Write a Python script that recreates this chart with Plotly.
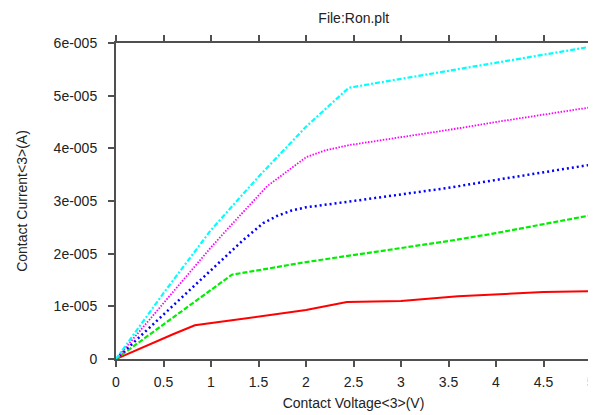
import plotly.graph_objects as go

# Data (currents in A)
red_x = [0, 0.3, 0.6, 0.83, 1.2, 1.6, 2.0, 2.43, 3.0, 3.6, 4.0, 4.5, 5.0]
red_y = [0, 0.24e-5, 0.47e-5, 0.64e-5, 0.73e-5, 0.82e-5, 0.93e-5, 1.08e-5, 1.10e-5, 1.19e-5, 1.22e-5, 1.27e-5, 1.29e-5]

green_x = [0, 0.5, 1.0, 1.22, 2.0, 2.5, 3.0, 3.5, 4.0, 4.5, 5.0]
green_y = [0, 0.66e-5, 1.31e-5, 1.60e-5, 1.84e-5, 1.97e-5, 2.10e-5, 2.24e-5, 2.39e-5, 2.56e-5, 2.73e-5]

blue_x = [0, 0.5, 1.0, 1.34, 1.55, 1.7, 1.85, 2.0, 2.5, 3.0, 3.5, 4.0, 4.5, 5.0]
blue_y = [0, 0.85e-5, 1.70e-5, 2.26e-5, 2.58e-5, 2.72e-5, 2.82e-5, 2.88e-5, 3.00e-5, 3.12e-5, 3.25e-5, 3.40e-5, 3.55e-5, 3.69e-5]

mag_x = [0, 0.5, 1.0, 1.2, 1.59, 2.0, 2.2, 2.45, 3.0, 3.5, 4.0, 4.5, 5.0]
mag_y = [0, 1.07e-5, 2.12e-5, 2.52e-5, 3.28e-5, 3.83e-5, 3.96e-5, 4.06e-5, 4.21e-5, 4.35e-5, 4.50e-5, 4.64e-5, 4.78e-5]

cyan_x = [0, 0.5, 1.0, 1.5, 2.0, 2.45, 3.0, 3.5, 4.0, 4.5, 5.0]
cyan_y = [0, 1.25e-5, 2.45e-5, 3.46e-5, 4.41e-5, 5.15e-5, 5.32e-5, 5.47e-5, 5.62e-5, 5.77e-5, 5.93e-5]

x_tickvals = [0, 0.5, 1, 1.5, 2, 2.5, 3, 3.5, 4, 4.5, 5]
x_ticktext = ["0", "0.5", "1", "1.5", "2", "2.5", "3", "3.5", "4", "4.5", "5"]
y_tickvals = [0, 1e-5, 2e-5, 3e-5, 4e-5, 5e-5, 6e-5]
y_ticktext = ["0", "1e-005", "2e-005", "3e-005", "4e-005", "5e-005", "6e-005"]

series = [
    (red_x, red_y, "#ff0000", "solid", 2),
    (green_x, green_y, "#00ee00", "5px,2px", 2.2),
    (blue_x, blue_y, "#0000ff", "2px,3px", 2.5),
    (mag_x, mag_y, "#ff00ff", "1.5px,1.5px", 1.8),
    (cyan_x, cyan_y, "#00ffff", "5px,2px,2px,2px", 2.2),
]

fig = go.Figure()
for xs, ys, col, dash, w in series:
    fig.add_trace(go.Scatter(x=xs, y=ys, mode="lines",
                             line=dict(color=col, width=w, dash=dash),
                             showlegend=False))

font = dict(family="Liberation Sans, Arial, sans-serif", size=14, color="#222222")

# page body has an 8px margin, so the figure is sized 8px smaller
fig.update_layout(
    width=588, height=407,
    margin=dict(l=108, r=5, t=35, b=56),
    paper_bgcolor="white", plot_bgcolor="white",
    font=font,
    title=dict(text="File:Ron.plt", x=0.588, xanchor="center", y=0.975, yanchor="middle",
               font=dict(family="Liberation Sans, Arial, sans-serif", size=14, color="#222222")),
    xaxis=dict(range=[0, 5], tickvals=x_tickvals, ticktext=x_ticktext, automargin=False,
               ticklabeloverflow="allow", ticklabelstandoff=3,
               showgrid=False, zeroline=False, showline=True, linecolor="#505050", linewidth=2,
               mirror="ticks", ticks="outside", ticklen=6, tickwidth=1.5, tickcolor="#505050",
               title=dict(text="Contact Voltage<3>(V)", standoff=9, font=font)),
    yaxis=dict(range=[0, 6e-5], tickvals=y_tickvals, ticktext=y_ticktext, automargin=False,
               ticklabelstandoff=8,
               showgrid=False, zeroline=False, showline=True, linecolor="#505050", linewidth=2,
               mirror="ticks", ticks="outside", ticklen=6, tickwidth=1.5, tickcolor="#505050",
               title=dict(text="Contact Current<3>(A)", standoff=23, font=font)),
)

fig.write_html("out.html")
